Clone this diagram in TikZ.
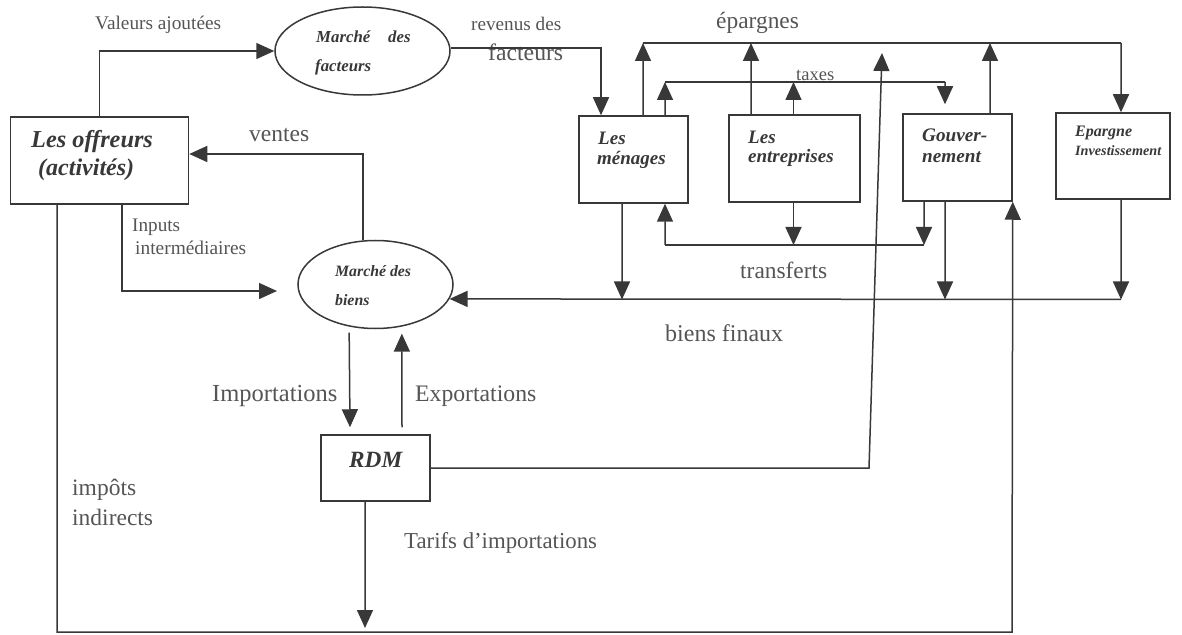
\documentclass[tikz,border=0pt]{standalone}
\usepackage{fontspec}
\setmainfont{Liberation Serif}
\usetikzlibrary{shapes.geometric,arrows.meta}
\definecolor{ln}{HTML}{383838}
\definecolor{labgray}{HTML}{555555}
\definecolor{boxgray}{HTML}{383838}
\newcommand\fsz[1]{\fontsize{#1bp}{#1bp}\selectfont}
\tikzset{
  box/.style={draw=ln, line width=1.5bp, inner sep=0pt, rectangle},
  ell/.style={draw=ln, line width=1.5bp, inner sep=0pt, ellipse},
  flow/.style={draw=ln, line width=1.5bp, -{Triangle[length=18bp,width=16bp]}},
  plain/.style={draw=ln, line width=1.5bp},
  lbl/.style={anchor=west, inner sep=0pt, text=labgray},
  boxt/.style={anchor=west, inner sep=0pt, text=boxgray, font=\bfseries\itshape},
}
\begin{document}
\begin{tikzpicture}[x=1bp,y=-1bp]
\useasboundingbox[fill=white] (0,0) rectangle (1182,635);

% boxes
\node[box, minimum width=178bp, minimum height=87bp] (off) at (99.5,160.5) {};
\node[box, minimum width=109bp, minimum height=87bp] (men) at (633.5,159.5) {};
\node[box, minimum width=131bp, minimum height=87bp] (ent) at (794.5,158.5) {};
\node[box, minimum width=109bp, minimum height=87bp] (gouv) at (957.5,157.5) {};
\node[box, minimum width=114bp, minimum height=86bp] (ep) at (1113,156) {};
\node[box, minimum width=109bp, minimum height=66bp] (rdm) at (375.5,468) {};
\node[ell, minimum width=175bp, minimum height=88bp] (fact) at (362.5,51) {};
\node[ell, minimum width=155bp, minimum height=88bp] (biens) at (375.5,284.5) {};

% box texts
\node[boxt, font=\bfseries\itshape\fsz{24.3}] (off1) at (31,142) {Les offreurs};
\node[boxt, font=\bfseries\itshape\fsz{24}] (off2) at (38,170) {(activités)};
\node[boxt, font=\bfseries\itshape\fsz{19}] (men1) at (598,138) {Les};
\node[boxt, font=\bfseries\itshape\fsz{19}] (men2) at (597,160) {ménages};
\node[boxt, font=\bfseries\itshape\fsz{19}] (ent1) at (748,137) {Les};
\node[boxt, font=\bfseries\itshape\fsz{19}] (ent2) at (748,158) {entreprises};
\node[boxt, font=\bfseries\itshape\fsz{19.2}] (gouv1) at (922,135) {Gouver-};
\node[boxt, font=\bfseries\itshape\fsz{19.2}] (gouv2) at (922,157) {nement};
\node[boxt, font=\bfseries\itshape\fsz{16}] (ep1) at (1075,133) {Epargne};
\node[boxt, font=\bfseries\itshape\fsz{14.2}] (ep2) at (1075,151) {Investissement};
\node[boxt, font=\bfseries\itshape\fsz{23.3}] (rdm1) at (349,460) {RDM};
\node[boxt, font=\bfseries\itshape\fsz{16.8}] (fact1) at (316,37) {Marché};
\node[boxt, font=\bfseries\itshape\fsz{16.8}] (fact2) at (388,37) {des};
\node[boxt, font=\bfseries\itshape\fsz{16.8}] (fact3) at (315,67) {facteurs};
\node[boxt, font=\bfseries\itshape\fsz{15.8}] (biens1) at (335,271) {Marché des};
\node[boxt, font=\bfseries\itshape\fsz{15.8}] (biens2) at (335,300) {biens};

% labels
\node[lbl, font=\fsz{19.3}] (l1) at (95,25) {Valeurs ajoutées};
\node[lbl, font=\fsz{19.2}] (l2) at (471,24) {revenus des};
\node[lbl, font=\fsz{23.7}] (l3) at (488,52) {facteurs};
\node[lbl, font=\fsz{23.4}] (l4) at (716,23) {épargnes};
\node[lbl, font=\fsz{18.5}] (l5) at (796,75) {taxes};
\node[lbl, font=\fsz{23.5}] (l6) at (249,135) {ventes};
\node[lbl, font=\fsz{19.2}] (l7a) at (132,227) {Inputs};
\node[lbl, font=\fsz{19.4}] (l7b) at (135,248) {intermédiaires};
\node[lbl, font=\fsz{23.4}] (l8) at (740,270) {transferts};
\node[lbl, font=\fsz{24}] (l9) at (665,333) {biens finaux};
\node[lbl, font=\fsz{24.5}] (l10) at (212,396) {Importations};
\node[lbl, font=\fsz{23.7}] (l11) at (415,396) {Exportations};
\node[lbl, font=\fsz{23.5}] (l12a) at (72,490) {impôts};
\node[lbl, font=\fsz{23.5}] (l12b) at (72,517) {indirects};
\node[lbl, font=\fsz{22.8}] (l13) at (404,543) {Tarifs d’importations};

% coordinates
\coordinate (eptop) at (1121,43);
\coordinate (epl) at (643,43);
\coordinate (taxl) at (665,82);
\coordinate (taxr) at (945,82);
\coordinate (trl) at (665,245);
\coordinate (trr) at (924,245);
\coordinate (bfr) at (1121,299.5);
\coordinate (inp) at (277,291);
\coordinate (rdmup) at (882,53);
\coordinate (rdmbend) at (869,468);
\coordinate (tarif) at (365,628);
\coordinate (botr) at (1012,632);

% valeurs ajoutees
\draw[flow] (off.north) |- (fact.west);
% revenus des facteurs
\draw[flow] (fact.2.6) -| ([xshift=-32.5bp]men.north);
% ventes
\draw[flow] (biens.106) |- ([yshift=6.5bp]off.east);
% inputs intermediaires
\draw[flow] ([xshift=22.5bp]off.south) |- (inp);

% epargnes
\draw[flow] ([xshift=9.5bp]men.north) -- (epl);
\draw[flow] ([xshift=-43.5bp]ent.north) -- (epl -| 751,0);
\draw[flow] ([xshift=32.5bp]gouv.north) -- (epl -| 990,0);
\draw[plain] (epl) -- (eptop);
\draw[flow] (eptop) -- ([xshift=8bp]ep.north);

% taxes
\draw[flow] ([xshift=31.5bp]men.north) -- (taxl);
\draw[flow] ([xshift=-1bp]ent.north) -- (taxl -| 793.5,0);
\draw[plain] (taxl) -- (taxr);
\draw[flow] (taxr) -- ([xshift=-12.5bp,yshift=9bp]gouv.north);

% transferts
\draw[flow] (trl) -- ([xshift=31.5bp]men.south);
\draw[plain] (trl) -- (trr);
\draw[flow] ([xshift=-1bp]ent.south) -- (trl -| 793.5,0);
\draw[flow] ([xshift=-33.5bp]gouv.south) -- (trr);

% biens finaux
\draw[flow] ([xshift=-11.5bp]men.south) -- (bfr -| 622,0);
\draw[flow] ([xshift=-12.5bp]gouv.south) -- (bfr -| 945,0);
\draw[flow] ([xshift=8bp]ep.south) -- (bfr);
\draw[flow] (bfr) -- (biens.-11.6);

% importations / exportations
\draw[flow] ([yshift=-6bp]biens.238.5) -- ([xshift=-25.5bp,yshift=7bp]rdm.north);
\draw[flow] ([xshift=26.5bp,yshift=7bp]rdm.north) -- ([yshift=-7bp]biens.302.7);

% RDM to epargne line
\draw[flow] (rdm.east) -- (rdmbend) -- (rdmup);

% tarifs
\draw[flow] ([xshift=-10.5bp]rdm.south) -- (tarif);

% impots indirects loop
\draw[flow] ([xshift=-42.5bp]off.south) |- (botr) -- (gouv.south east);
\end{tikzpicture}
\end{document}
